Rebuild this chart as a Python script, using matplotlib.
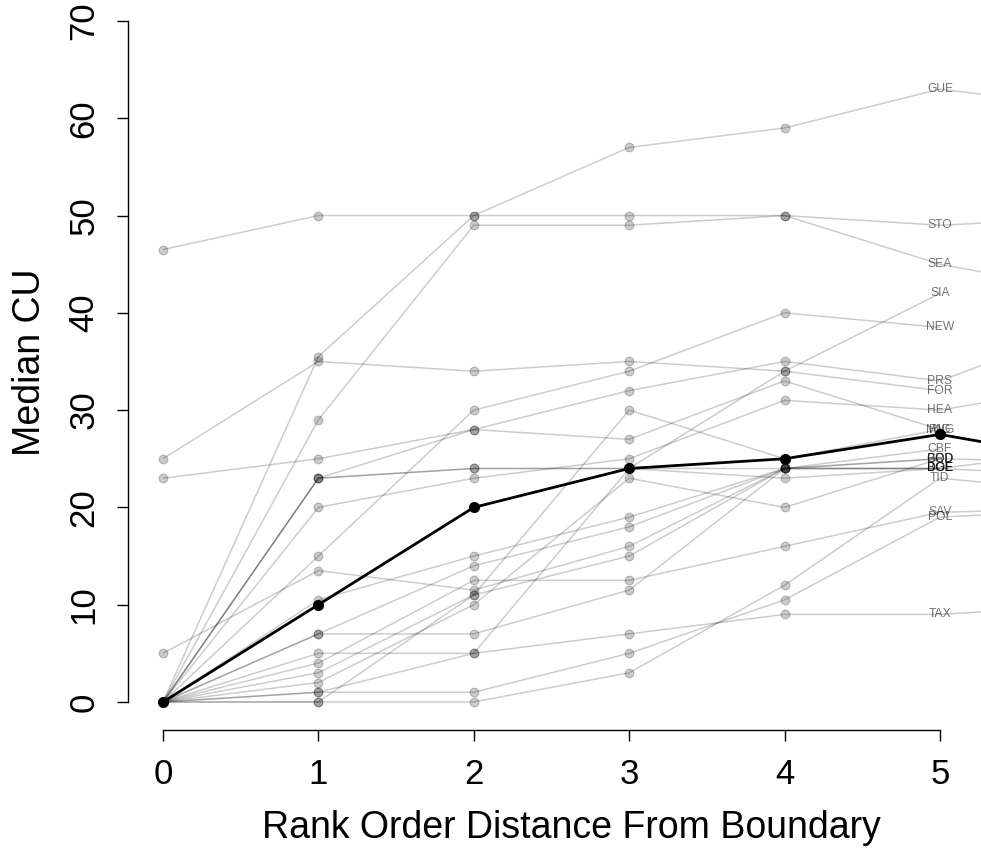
import numpy as np
import matplotlib
matplotlib.use("Agg")
import matplotlib.pyplot as plt

plt.rcParams['font.family'] = ['Liberation Sans', 'DejaVu Sans']

# ---- data (median CU by rank order distance from boundary) ----
distances = [0, 1, 2, 3, 4, 5, 6]
labels = ["STO", "GUE", "SEA", "FOR", "NEW", "PRS", "MNG", "SIA", "BOD", "HEA", "BOE",
          "POD", "DOE", "CBF", "SAV", "RIG", "DGE", "GRD", "TAX", "BGE", "POL", "TID"]
d0 = [46.5, 0, 0, 25, 0, 23, 0, 0, 0, 0, 5, 0, 0, 0, 0, 0, 0, 0, 0, 0, 0, 0]
d1 = [50, 35.5, 29, 35, 15, 25, 23, 23, 23, 20, 13.5, 10.5, 7, 7, 4, 0, 3, 2, 5, 1, 1, 0]
d2 = [50, 50, 49, 34, 30, 28, 28, 24, 24, 23, 11.5, 15, 14, 7, 12.5, 11, 11, 10, 5, 5, 1, 0]
d3 = [50, 57, 49, 35, 34, 32, 27, 24, 24, 25, 16, 19, 18, 11.5, 12.5, 30, 15, 23, 7, 24, 5, 3]
d4 = [50, 59, 50, 34, 40, 35, 33, 34, 24, 31, 24, 24, 24, 24, 16, 25, 24, 20, 9, 23, 10.5, 12]
d5 = [49, 63, 45, 32, 38.5, 33, 28, 42, 25, 30, 24, 25, 24, 26, 19.5, 28, 24, 25, 9, 24, 19, 23]
d6 = [49.8, 61, 42, np.nan, np.nan, 39, np.nan, np.nan, 24.6, 32.7, 26, np.nan, 23.2, np.nan,
      19.9, np.nan, np.nan, np.nan, 10, np.nan, 19.8, 21.5]
median_cu = [0, 10, 20, 24, 25, 27.5, 24.7]

series = np.array([d0, d1, d2, d3, d4, d5, d6], dtype=float).T

W, H = 981, 856
fig = plt.figure(figsize=(W / 100, H / 100), dpi=100)
# axes placement in pixels
left_px, right_px = 128, 981
bottom_px, top_px = 730, -6.3
ax = fig.add_axes([left_px / W, (H - bottom_px) / H,
                   (right_px - left_px) / W, (bottom_px - top_px) / H])
ax.set_xlim(-0.225, 5.264)
ax.set_ylim(-2.88, 72.8)

x = np.array(distances, dtype=float)
gray_line = (0, 0, 0, 0.2)
for vals, lab in zip(series, labels):
    ax.plot(x, vals, color=gray_line, lw=1.1, zorder=2, solid_capstyle='butt')
    ax.plot(x[:5], vals[:5], linestyle='none', marker='o', markersize=6.3,
            markerfacecolor=(0, 0, 0, 0.2), markeredgecolor=(0, 0, 0, 0.22),
            markeredgewidth=0.8, zorder=3)
    ax.text(x[5], vals[5], lab, ha='center', va='center', fontsize=8.7,
            color=(0, 0, 0, 0.55), zorder=4)

ax.plot(x, median_cu, color='black', lw=2.0, zorder=5)
ax.plot(x[:6], median_cu[:6], linestyle='none', marker='o', markersize=7,
        color='black', zorder=6)

for s in ['top', 'right']:
    ax.spines[s].set_visible(False)
ax.spines['left'].set_bounds(0, 70)
ax.spines['bottom'].set_bounds(0, 5)
for s in ['left', 'bottom']:
    ax.spines[s].set_linewidth(1.0)

ax.set_xticks([0, 1, 2, 3, 4, 5])
ax.set_yticks(np.arange(0, 71, 10))
ax.tick_params(axis='both', direction='out', length=8, width=1.0, labelsize=25, pad=12)
for t in ax.get_yticklabels():
    t.set_rotation(90)
    t.set_va('center')

ax.set_xlabel("Rank Order Distance From Boundary", fontsize=27)
ax.set_ylabel("Median CU", fontsize=27)
ax.xaxis.set_label_coords(571 / W, 1 - 828 / H, transform=fig.transFigure)
ax.xaxis.label.set_va('center')
ax.yaxis.set_label_coords(30 / W, 1 - 362 / H, transform=fig.transFigure)
ax.yaxis.label.set_va('center')

fig.savefig("out.png", dpi=100)
